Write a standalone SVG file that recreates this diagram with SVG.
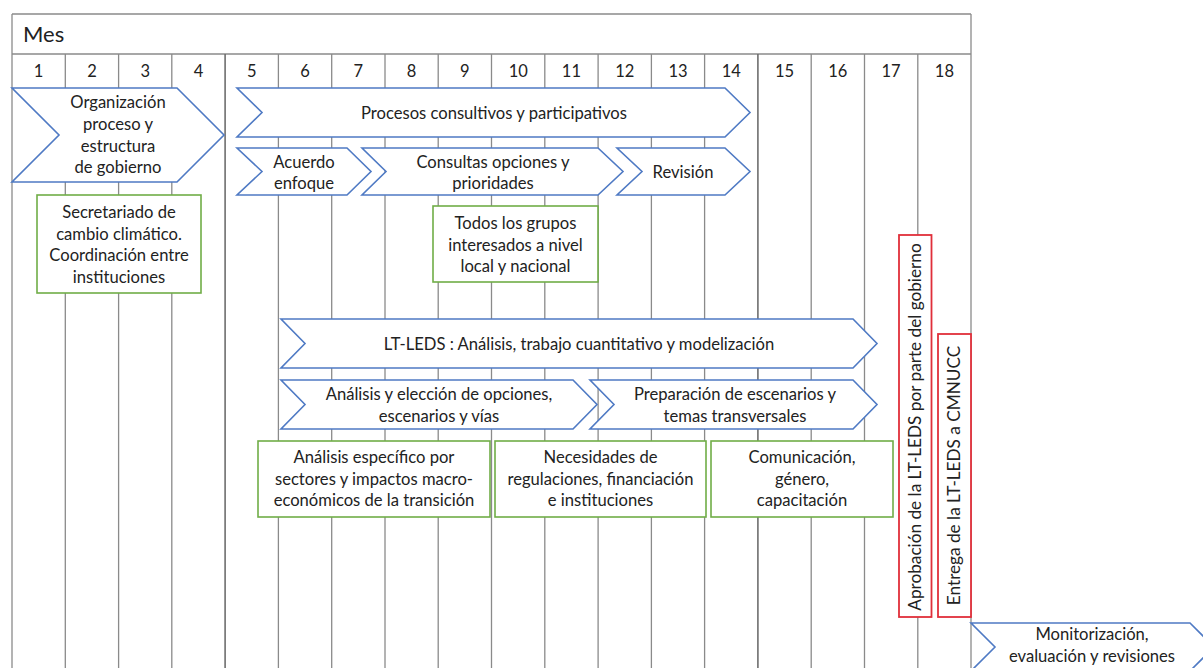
<svg xmlns="http://www.w3.org/2000/svg" width="1203" height="668" viewBox="0 0 1203 668">
<style>
.grid{stroke:#8a8a8a;stroke-width:1.3;fill:none}
.sep{stroke:#6e6e6e;stroke-width:1.6;fill:none}
.chev{fill:#fff;stroke:#4f7ac4;stroke-width:1.6;stroke-linejoin:miter}
.gbox{fill:#fff;stroke:#70ad47;stroke-width:1.6}
.rbox{fill:#fff;stroke:#e02f3a;stroke-width:1.8}
text{font-family:Lato,"Open Sans","Liberation Sans",sans-serif;font-size:16.6px;fill:#222;text-anchor:middle}
.num{font-size:16.5px}
.mes{font-size:22px;text-anchor:start}
.vert{font-size:17.2px}
</style>
<rect width="1203" height="668" fill="#fff"/>
<g id="grid">
<line class="grid" x1="12" y1="14" x2="971" y2="14"/>
<line class="grid" x1="12" y1="54" x2="971" y2="54"/>
<line class="grid" x1="12" y1="14" x2="12" y2="668"/>
<line class="grid" x1="971" y1="14" x2="971" y2="668"/>
<line class="grid" x1="65.3" y1="54" x2="65.3" y2="668"/>
<line class="grid" x1="118.6" y1="54" x2="118.6" y2="668"/>
<line class="grid" x1="171.8" y1="54" x2="171.8" y2="668"/>
<line class="sep" x1="225.1" y1="54" x2="225.1" y2="668"/>
<line class="grid" x1="278.4" y1="54" x2="278.4" y2="668"/>
<line class="grid" x1="331.7" y1="54" x2="331.7" y2="668"/>
<line class="grid" x1="385" y1="54" x2="385" y2="668"/>
<line class="grid" x1="438.2" y1="54" x2="438.2" y2="668"/>
<line class="grid" x1="491.5" y1="54" x2="491.5" y2="668"/>
<line class="grid" x1="544.8" y1="54" x2="544.8" y2="668"/>
<line class="grid" x1="598.1" y1="54" x2="598.1" y2="668"/>
<line class="grid" x1="651.4" y1="54" x2="651.4" y2="668"/>
<line class="grid" x1="704.6" y1="54" x2="704.6" y2="668"/>
<line class="sep" x1="757.9" y1="54" x2="757.9" y2="668"/>
<line class="grid" x1="811.2" y1="54" x2="811.2" y2="668"/>
<line class="grid" x1="864.5" y1="54" x2="864.5" y2="668"/>
<line class="grid" x1="917.8" y1="54" x2="917.8" y2="668"/>
<text class="mes" x="23" y="42">Mes</text>
<text class="num" x="38.6" y="76.5">1</text>
<text class="num" x="92" y="76.5">2</text>
<text class="num" x="145.2" y="76.5">3</text>
<text class="num" x="198.5" y="76.5">4</text>
<text class="num" x="251.8" y="76.5">5</text>
<text class="num" x="305" y="76.5">6</text>
<text class="num" x="358.3" y="76.5">7</text>
<text class="num" x="411.6" y="76.5">8</text>
<text class="num" x="464.9" y="76.5">9</text>
<text class="num" x="518.2" y="76.5">10</text>
<text class="num" x="571.4" y="76.5">11</text>
<text class="num" x="624.7" y="76.5">12</text>
<text class="num" x="678" y="76.5">13</text>
<text class="num" x="731.3" y="76.5">14</text>
<text class="num" x="784.6" y="76.5">15</text>
<text class="num" x="837.8" y="76.5">16</text>
<text class="num" x="891.1" y="76.5">17</text>
<text class="num" x="944.4" y="76.5">18</text>
</g>
<g id="connectors"></g>
<g id="organizacion">
<polygon class="chev" points="12,88 177,88 224,135 177,182 12,182 59,135"/>
<text x="118" y="108">Organización</text>
<text x="118" y="129.5">proceso y</text>
<text x="118" y="151.5">estructura</text>
<text x="118" y="173">de gobierno</text>
</g>
<g id="procesos">
<polygon class="chev" points="237,88 725,88 750,112.5 725,137 237,137 262,112.5"/>
<text x="494" y="118.5">Procesos consultivos y participativos</text>
</g>
<g id="acuerdo">
<polygon class="chev" points="237,148 347,148 371,171.5 347,195 237,195 262,171.5"/>
<text x="304" y="167.5">Acuerdo</text>
<text x="304" y="189">enfoque</text>
</g>
<g id="consultas">
<polygon class="chev" points="362,148 598,148 623,171.5 598,195 362,195 386,171.5"/>
<text x="493" y="167.5">Consultas opciones y</text>
<text x="493" y="189">prioridades</text>
</g>
<g id="revision">
<polygon class="chev" points="617,148 725,148 750,171.5 725,195 617,195 642,171.5"/>
<text x="683" y="177.5">Revisión</text>
</g>
<g id="secretariado">
<rect class="gbox" x="37" y="195" width="164" height="98"/>
<text x="119" y="218">Secretariado de</text>
<text x="119" y="239.5">cambio climático.</text>
<text x="119" y="261">Coordinación entre</text>
<text x="119" y="282.5">instituciones</text>
</g>
<g id="todos">
<rect class="gbox" x="433" y="206" width="165" height="76"/>
<text x="515.5" y="229">Todos los grupos</text>
<text x="515.5" y="250.5">interesados a nivel</text>
<text x="515.5" y="272">local y nacional</text>
</g>
<g id="ltleds">
<polygon class="chev" points="281,319 853,319 877,343.5 853,368 281,368 305,343.5"/>
<text x="579" y="349.5">LT-LEDS : Análisis, trabajo cuantitativo y modelización</text>
</g>
<g id="eleccion">
<polygon class="chev" points="281,380 573,380 597,404.5 573,429 281,429 305,404.5"/>
<text x="439" y="400">Análisis y elección de opciones,</text>
<text x="439" y="421.5">escenarios y vías</text>
</g>
<g id="preparacion">
<polygon class="chev" points="590,380 853,380 877,404.5 853,429 590,429 614,404.5"/>
<text x="735" y="400">Preparación de escenarios y</text>
<text x="735" y="421.5">temas transversales</text>
</g>
<g id="especifico">
<rect class="gbox" x="258" y="441" width="232" height="76"/>
<text x="374" y="463">Análisis específico por</text>
<text x="374" y="484.5">sectores y impactos macro-</text>
<text x="374" y="506">económicos de la transición</text>
</g>
<g id="necesidades">
<rect class="gbox" x="495" y="441" width="211" height="76"/>
<text x="600.5" y="463">Necesidades de</text>
<text x="600.5" y="484.5">regulaciones, financiación</text>
<text x="600.5" y="506">e instituciones</text>
</g>
<g id="comunicacion">
<rect class="gbox" x="711" y="441" width="182" height="76"/>
<text x="802" y="463">Comunicación,</text>
<text x="802" y="484.5">género,</text>
<text x="802" y="506">capacitación</text>
</g>
<g id="aprobacion">
<rect class="rbox" x="899" y="235" width="32.5" height="382"/>
<text class="vert" transform="translate(921,427) rotate(-90)">Aprobación de la LT-LEDS por parte del gobierno</text>
</g>
<g id="entrega">
<rect class="rbox" x="938" y="334" width="33" height="283"/>
<text class="vert" transform="translate(960,475.5) rotate(-90)">Entrega de la LT-LEDS a CMNUCC</text>
</g>
<g id="monitorizacion">
<polygon class="chev" points="971,623 1190,623 1214,647 1190,671 971,671 995,647"/>
<text x="1092" y="639.5">Monitorización,</text>
<text x="1092" y="661.5">evaluación y revisiones</text>
</g>
</svg>
